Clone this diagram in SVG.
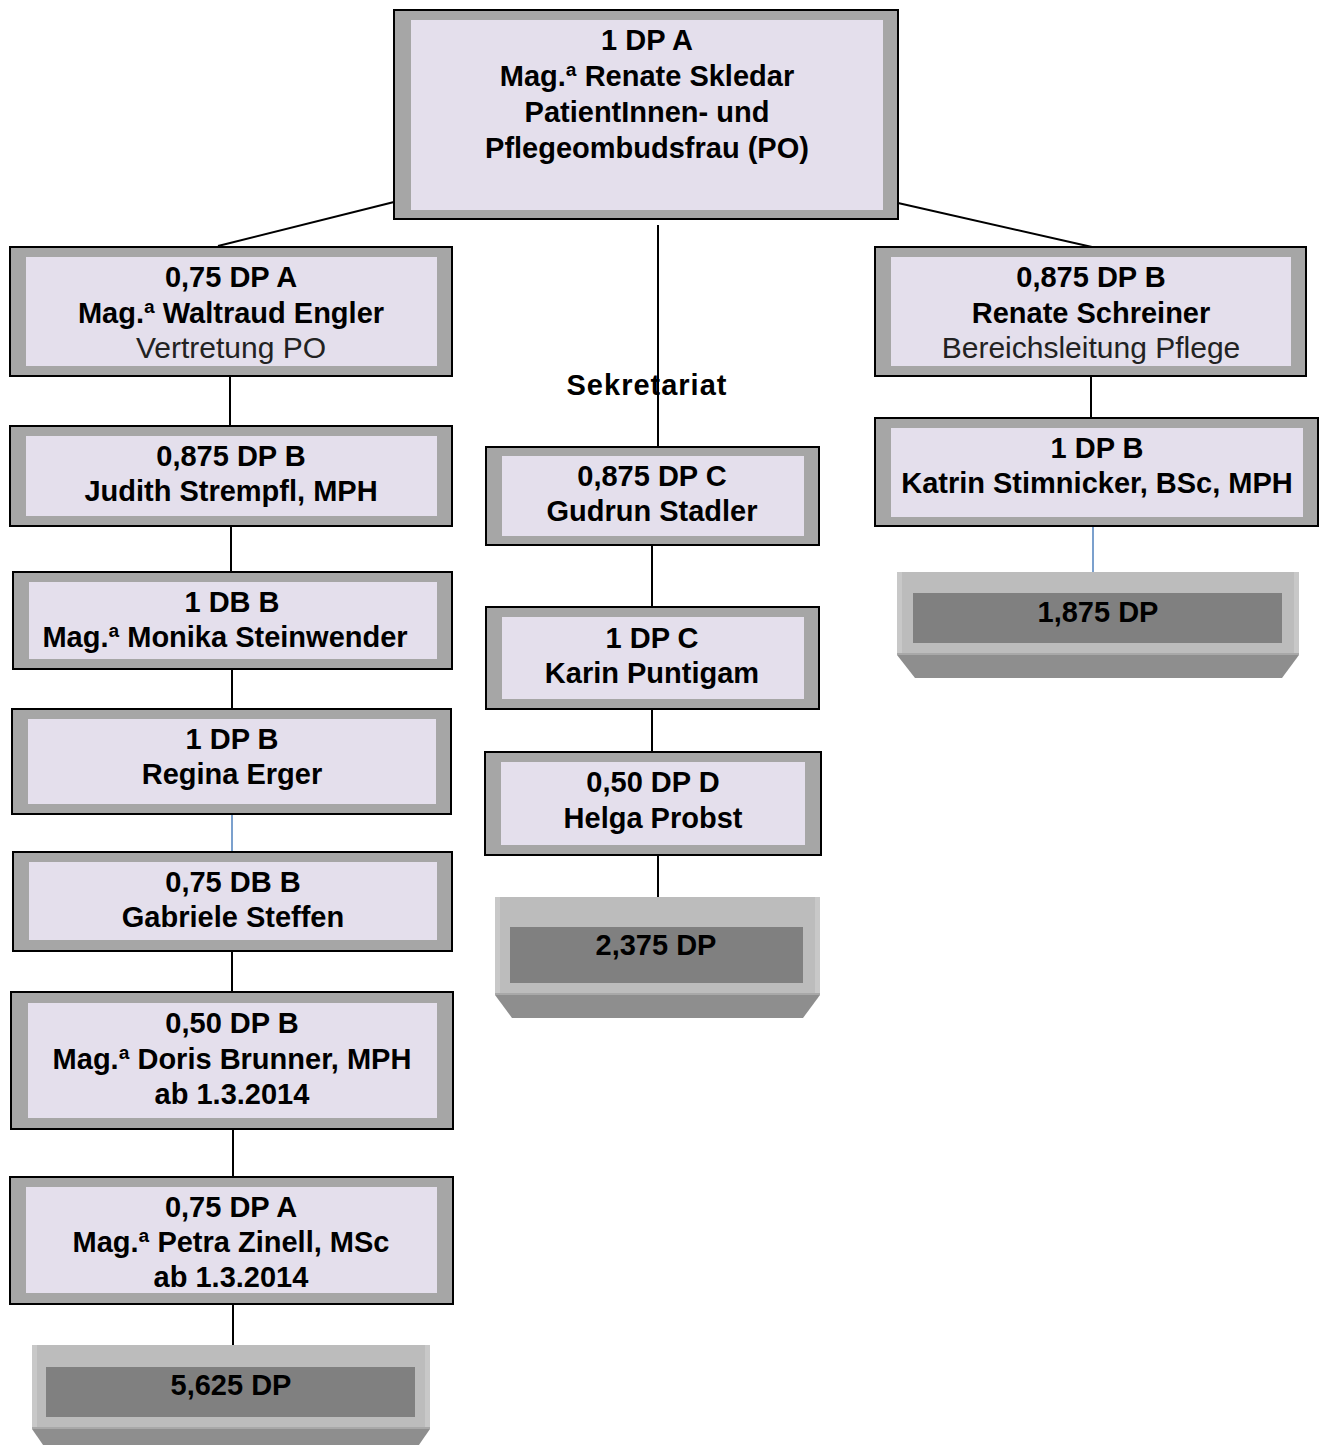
<svg xmlns="http://www.w3.org/2000/svg" width="1323" height="1445" viewBox="0 0 1323 1445">
<style>
.o{fill:#a6a6a6;stroke:#000;stroke-width:2}
.i{fill:#e4dfec}
.t{font-family:"Liberation Sans",Arial,sans-serif;font-size:29px;font-weight:bold;fill:#000;text-anchor:middle}
.r{font-weight:normal;font-size:30px;fill:#222}
.c{stroke:#000;stroke-width:2;fill:none}
.b{stroke:#4f81bd;stroke-width:1.5;fill:none}
.sl{fill:#bcbcbc}
.se{fill:#c8c8c8}
.sd{fill:#808080}
.st{fill:#8e8e8e}
</style>
<g id="connectors">
<line class="c" x1="394" y1="202" x2="218" y2="246"/>
<line class="c" x1="898" y1="203" x2="1092" y2="247"/>
<line class="c" x1="658" y1="225" x2="658" y2="446"/>
<line class="c" x1="230" y1="377" x2="230" y2="426"/>
<line class="c" x1="231" y1="526" x2="231" y2="572"/>
<line class="c" x1="232" y1="669" x2="232" y2="709"/>
<line class="b" x1="232" y1="814" x2="232" y2="852"/>
<line class="c" x1="232" y1="951" x2="232" y2="992"/>
<line class="c" x1="233" y1="1129" x2="233" y2="1177"/>
<line class="c" x1="233" y1="1305" x2="233" y2="1345"/>
<line class="c" x1="652" y1="545" x2="652" y2="607"/>
<line class="c" x1="652" y1="709" x2="652" y2="752"/>
<line class="c" x1="658" y1="855" x2="658" y2="897"/>
<line class="c" x1="1091" y1="377" x2="1091" y2="418"/>
<line class="b" x1="1093" y1="526" x2="1093" y2="572"/>
</g>
<g id="po">
<rect class="o" x="394" y="10" width="504" height="209"/>
<rect class="i" x="411" y="20" width="472" height="190"/>
<text class="t" x="647" y="50">1 DP A</text>
<text class="t" x="647" y="86">Mag.ª Renate Skledar</text>
<text class="t" x="647" y="122">PatientInnen- und</text>
<text class="t" x="647" y="158">Pflegeombudsfrau (PO)</text>
</g>
<g id="engler">
<rect class="o" x="10" y="247" width="442" height="129"/>
<rect class="i" x="26" y="257" width="411" height="109"/>
<text class="t" x="231" y="287">0,75 DP A</text>
<text class="t" x="231" y="323">Mag.ª Waltraud Engler</text>
<text class="t r" x="231" y="358">Vertretung PO</text>
</g>
<g id="strempfl">
<rect class="o" x="10" y="426" width="442" height="100"/>
<rect class="i" x="26" y="436" width="411" height="80"/>
<text class="t" x="231" y="466">0,875 DP B</text>
<text class="t" x="231" y="501">Judith Strempfl, MPH</text>
</g>
<g id="steinwender">
<rect class="o" x="13" y="572" width="439" height="97"/>
<rect class="i" x="29" y="582" width="408" height="77"/>
<text class="t" x="232" y="612">1 DB B</text>
<text class="t" x="225" y="647">Mag.ª Monika Steinwender</text>
</g>
<g id="erger">
<rect class="o" x="12" y="709" width="439" height="105"/>
<rect class="i" x="28" y="719" width="408" height="85"/>
<text class="t" x="232" y="749">1 DP B</text>
<text class="t" x="232" y="784">Regina Erger</text>
</g>
<g id="steffen">
<rect class="o" x="13" y="852" width="439" height="99"/>
<rect class="i" x="29" y="862" width="408" height="78"/>
<text class="t" x="233" y="892">0,75 DB B</text>
<text class="t" x="233" y="927">Gabriele Steffen</text>
</g>
<g id="brunner">
<rect class="o" x="11" y="992" width="442" height="137"/>
<rect class="i" x="28" y="1003" width="409" height="115"/>
<text class="t" x="232" y="1033">0,50 DP B</text>
<text class="t" x="232" y="1069">Mag.ª Doris Brunner, MPH</text>
<text class="t" x="232" y="1104">ab 1.3.2014</text>
</g>
<g id="zinell">
<rect class="o" x="10" y="1177" width="443" height="127"/>
<rect class="i" x="26" y="1187" width="411" height="106"/>
<text class="t" x="231" y="1217">0,75 DP A</text>
<text class="t" x="231" y="1252">Mag.ª Petra Zinell, MSc</text>
<text class="t" x="231" y="1287">ab 1.3.2014</text>
</g>
<g id="sum-left">
<rect class="sl" x="32" y="1345" width="398" height="82"/>
<rect class="se" x="32" y="1345" width="5" height="82"/>
<rect class="se" x="425" y="1345" width="5" height="82"/>
<rect class="sd" x="46" y="1367" width="369" height="50"/>
<rect x="32" y="1427" width="398" height="2" fill="#a8a8a8"/>
<polygon class="st" points="32,1429 430,1429 412,1455 50,1455"/>
<text class="t" x="231" y="1395">5,625 DP</text>
</g>
<g id="sekretariat-label">
<text class="t" x="647" y="395" style="letter-spacing:1px">Sekretariat</text>
</g>
<g id="stadler">
<rect class="o" x="486" y="447" width="333" height="98"/>
<rect class="i" x="502" y="456" width="302" height="80"/>
<text class="t" x="652" y="486">0,875 DP C</text>
<text class="t" x="652" y="521">Gudrun Stadler</text>
</g>
<g id="puntigam">
<rect class="o" x="486" y="607" width="333" height="102"/>
<rect class="i" x="502" y="617" width="302" height="82"/>
<text class="t" x="652" y="648">1 DP C</text>
<text class="t" x="652" y="683">Karin Puntigam</text>
</g>
<g id="probst">
<rect class="o" x="485" y="752" width="336" height="103"/>
<rect class="i" x="501" y="762" width="304" height="83"/>
<text class="t" x="653" y="792">0,50 DP D</text>
<text class="t" x="653" y="828">Helga Probst</text>
</g>
<g id="sum-mid">
<rect class="sl" x="495" y="897" width="325" height="96"/>
<rect class="se" x="495" y="897" width="5" height="96"/>
<rect class="se" x="815" y="897" width="5" height="96"/>
<rect class="sd" x="510" y="927" width="293" height="56"/>
<rect x="495" y="993" width="325" height="2" fill="#a8a8a8"/>
<polygon class="st" points="495,995 820,995 803,1018 512,1018"/>
<text class="t" x="656" y="955">2,375 DP</text>
</g>
<g id="schreiner">
<rect class="o" x="875" y="247" width="431" height="129"/>
<rect class="i" x="891" y="257" width="400" height="109"/>
<text class="t" x="1091" y="287">0,875 DP B</text>
<text class="t" x="1091" y="323">Renate Schreiner</text>
<text class="t r" x="1091" y="358">Bereichsleitung Pflege</text>
</g>
<g id="stimnicker">
<rect class="o" x="875" y="418" width="443" height="108"/>
<rect class="i" x="891" y="428" width="412" height="89"/>
<text class="t" x="1097" y="458">1 DP B</text>
<text class="t" x="1097" y="493">Katrin Stimnicker, BSc, MPH</text>
</g>
<g id="sum-right">
<rect class="sl" x="897" y="572" width="402" height="81"/>
<rect class="se" x="897" y="572" width="5" height="81"/>
<rect class="se" x="1294" y="572" width="5" height="81"/>
<rect class="sd" x="913" y="593" width="369" height="50"/>
<rect x="897" y="653" width="402" height="2" fill="#a8a8a8"/>
<polygon class="st" points="897,655 1299,655 1282,678 915,678"/>
<text class="t" x="1098" y="622">1,875 DP</text>
</g>
</svg>
